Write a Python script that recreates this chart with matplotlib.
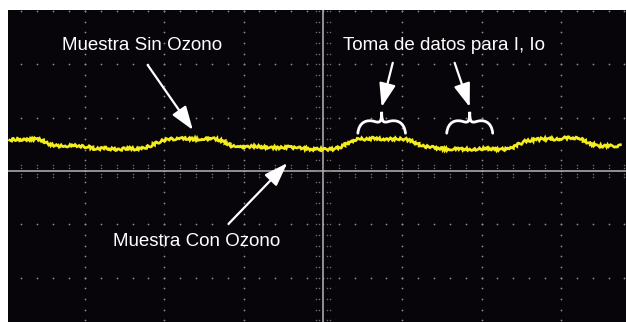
import numpy as np
import matplotlib.pyplot as plt
from matplotlib.path import Path
from matplotlib.patches import PathPatch

# trace, in divisions (x: time div, y: volts div)
t_div = [-3.95, -3.85, -3.75, -3.65, -3.55, -3.45, -3.35, -3.25, -3.15, -3.05,
         -2.95, -2.85, -2.75, -2.65, -2.55, -2.45, -2.35, -2.25, -2.15, -2.05,
         -1.95, -1.85, -1.75, -1.65, -1.55, -1.45, -1.35, -1.25, -1.15, -1.05,
         -0.95, -0.85, -0.75, -0.65, -0.55, -0.45, -0.35, -0.25, -0.15, -0.05,
         0.05, 0.15, 0.25, 0.35, 0.45, 0.55, 0.65, 0.75, 0.85, 0.95,
         1.05, 1.15, 1.25, 1.35, 1.45, 1.55, 1.65, 1.75, 1.85, 1.95,
         2.05, 2.15, 2.25, 2.35, 2.45, 2.55, 2.65, 2.75, 2.85, 2.95,
         3.05, 3.15, 3.25, 3.35, 3.45, 3.55, 3.65, 3.75]
v_div = [0.58, 0.60, 0.58, 0.60, 0.58, 0.51, 0.47, 0.47, 0.49, 0.47,
         0.45, 0.41, 0.43, 0.41, 0.41, 0.43, 0.41, 0.43, 0.49, 0.56,
         0.60, 0.60, 0.62, 0.60, 0.60, 0.62, 0.60, 0.56, 0.47, 0.47,
         0.45, 0.47, 0.45, 0.45, 0.43, 0.45, 0.43, 0.43, 0.41, 0.41,
         0.41, 0.41, 0.47, 0.56, 0.60, 0.60, 0.62, 0.60, 0.60, 0.60,
         0.60, 0.54, 0.47, 0.45, 0.43, 0.41, 0.41, 0.41, 0.41, 0.41,
         0.43, 0.41, 0.41, 0.41, 0.49, 0.56, 0.58, 0.60, 0.60, 0.60,
         0.62, 0.62, 0.60, 0.53, 0.47, 0.47, 0.47, 0.47]

label_sin = "Muestra Sin Ozono"
label_con = "Muestra Con Ozono"
label_toma = "Toma de datos para I, Io"

plt.rcParams['font.family'] = ['Liberation Sans', 'DejaVu Sans']

fig = plt.figure(figsize=(6.26, 3.22), dpi=100)
fig.patch.set_facecolor('white')
ax = fig.add_axes([8 / 626, 0, 618 / 626, 312 / 322])
ax.set_facecolor('#08050a')
ax.set_xlim(-3.97, 3.82)
ax.set_ylim(-2.83, 3.02)
for s in ax.spines.values():
    s.set_visible(False)
ax.set_xticks([])
ax.set_yticks([])

# dotted graticule
dot = '#8c8c8c'
for gx in [-3, -2, -1, 1, 2, 3]:
    ys = np.arange(-3, 3.01, 0.2)
    ax.scatter(np.full_like(ys, gx), ys, s=1.6, color=dot, lw=0, zorder=1)
for gy in [-2, -1, 1, 2, 3]:
    xs = np.arange(-4, 4.01, 0.2)
    ax.scatter(xs, np.full_like(xs, gy), s=1.6, color=dot, lw=0, zorder=1)

# centre cross with minor ticks
ax.axhline(0, color='#a8a8a8', lw=1.2, zorder=2)
ax.axvline(0, color='#a8a8a8', lw=1.2, zorder=2)
xs = np.arange(-4, 4.01, 0.2)
for off in [-0.11, -0.06, 0.06, 0.11]:
    ax.scatter(xs, np.full_like(xs, off), s=1.2, color='#6e6e6e', lw=0, zorder=2)
ys = np.arange(-3, 3.01, 0.2)
for off in [-0.09, -0.05, 0.05, 0.09]:
    ax.scatter(np.full_like(ys, off), ys, s=1.2, color='#6e6e6e', lw=0, zorder=2)

# trace (sketch filter gives the scope noise look)
trace, = ax.plot(t_div, v_div, color='#f3ec1e', lw=1.9, solid_joinstyle='miter', zorder=3)
trace.set_sketch_params(1.3, 4, 3)

# annotations
ax.text(-2.28, 2.36, label_sin, color='white', fontsize=13.5, ha='center', va='center')
ax.text(1.53, 2.36, label_toma, color='white', fontsize=13.5, ha='center', va='center')
ax.text(-1.59, -1.33, label_con, color='white', fontsize=13.5, ha='center', va='center')

aprops = dict(arrowstyle='-|>,head_length=0.8,head_width=0.28', color='white',
              lw=1.6, shrinkA=0, shrinkB=0, mutation_scale=18)
ax.annotate('', xy=(-1.64, 0.77), xytext=(-2.21, 1.99), arrowprops=aprops)
ax.annotate('', xy=(0.74, 1.20), xytext=(0.88, 2.03), arrowprops=aprops)
ax.annotate('', xy=(1.85, 1.20), xytext=(1.66, 2.03), arrowprops=aprops)
ax.annotate('', xy=(-0.45, 0.15), xytext=(-1.19, -0.99), arrowprops=aprops)


def brace(xc, hw, yt, yb):
    ym = yb + (yt - yb) * 0.55
    verts = [(xc - hw, yb), (xc - hw * 0.95, ym), (xc - hw * 0.6, ym + 0.04), (xc - hw * 0.3, ym),
             (xc - hw * 0.08, ym - 0.03), (xc, ym - 0.02), (xc, yt),
             (xc, ym - 0.02), (xc + hw * 0.08, ym - 0.03), (xc + hw * 0.3, ym),
             (xc + hw * 0.6, ym + 0.04), (xc + hw * 0.95, ym), (xc + hw, yb)]
    codes = [Path.MOVETO] + [Path.CURVE4] * 12
    ax.add_patch(PathPatch(Path(verts, codes), fc='none', ec='white', lw=2.0,
                           capstyle='round', zorder=4))


brace(0.74, 0.30, 1.11, 0.71)
brace(1.85, 0.29, 1.11, 0.71)

fig.savefig('out.png', dpi=100, facecolor='white')
